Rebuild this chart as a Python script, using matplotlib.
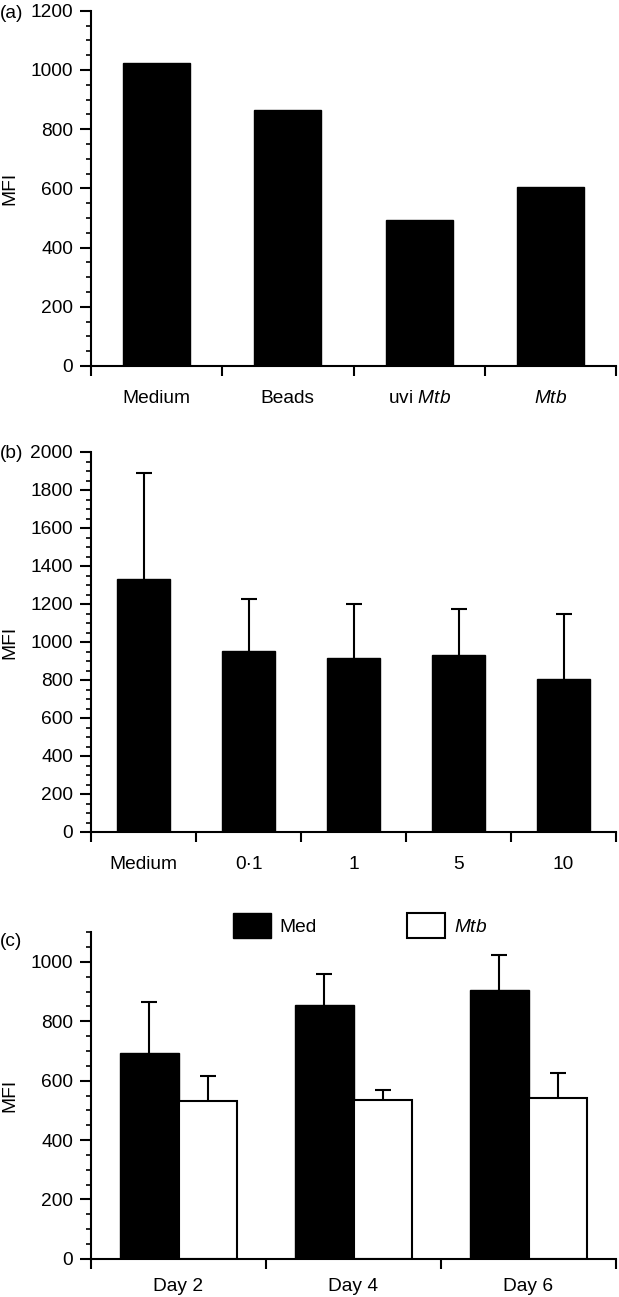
import matplotlib
matplotlib.use('Agg')
import matplotlib.pyplot as plt
import numpy as np

plt.rcParams['font.family'] = ['Liberation Sans', 'DejaVu Sans']
plt.rcParams['mathtext.fontset'] = 'custom'
plt.rcParams['mathtext.rm'] = 'Liberation Sans'
plt.rcParams['mathtext.it'] = 'Liberation Sans:italic'
plt.rcParams['font.size'] = 13.8

# (a)
cats_a = ['Medium', 'Beads', 'uvi $\\mathit{Mtb}$', '$\\mathit{Mtb}$']
mfi_a = [1025, 865, 492, 605]

# (b)
cats_b = ['Medium', '0·1', '1', '5', '10']
mfi_b = [1332, 954, 917, 930, 804]
sd_b = [559, 272, 285, 244, 342]

# (c)
cats_c = ['Day 2', 'Day 4', 'Day 6']
med_c = [694, 855, 904]
med_sd = [172, 106, 118]
mtb_c = [532, 534, 540]
mtb_sd = [84, 34, 85]

fig = plt.figure(figsize=(6.19, 12.97), dpi=100)
W = 619.0
H = 1297.0


def mkax(top, bottom):
    return fig.add_axes([91 / W, 1 - bottom / H, 525 / W, (bottom - top) / H])


def style(ax, n, ymax, step):
    for s in ['top', 'right']:
        ax.spines[s].set_visible(False)
    ax.spines['left'].set_linewidth(1.5)
    ax.spines['bottom'].set_linewidth(1.5)
    ax.set_xlim(-0.5, n - 0.5)
    ax.set_ylim(0, ymax)
    ax.set_yticks(np.arange(0, ymax + 1, step))
    ax.set_yticks(np.arange(0, ymax + 1, 50), minor=True)
    ax.tick_params(axis='y', which='major', length=8, width=1.5, pad=5)
    ax.tick_params(axis='y', which='minor', length=3.5, width=1.2)
    ax.set_xticks(np.arange(n + 1) - 0.5)
    ax.set_xticklabels([''] * (n + 1))
    ax.tick_params(axis='x', which='major', length=7, width=1.5)
    ax.set_ylabel('MFI')
    ax.yaxis.set_label_coords(-0.138, 0.5)


def xlabels(ax, cats, pad):
    ax.set_xticks(np.arange(len(cats)), minor=True)
    ax.set_xticklabels(cats, minor=True)
    ax.tick_params(axis='x', which='minor', length=0, pad=pad)


def errs(ax, x, vals, sd):
    eb = ax.errorbar(x, vals, yerr=[np.zeros(len(sd)), sd], fmt='none',
                     ecolor='black', elinewidth=1.5, capsize=6, capthick=1.5)
    eb[1][0].set_visible(False)  # no cap at bar top


# panel a
ax1 = mkax(10.7, 366)
xa = np.arange(len(cats_a))
ax1.bar(xa, mfi_a, width=0.51, color='black', edgecolor='black', linewidth=1)
style(ax1, len(cats_a), 1200, 200)
xlabels(ax1, cats_a, 17)
fig.text(0.0, 1 - 14 / H, '(a)', va='center', ha='left')

# panel b
ax2 = mkax(452, 832)
xb = np.arange(len(cats_b))
ax2.bar(xb, mfi_b, width=0.51, color='black', edgecolor='black', linewidth=1)
errs(ax2, xb, mfi_b, sd_b)
style(ax2, len(cats_b), 2000, 200)
xlabels(ax2, cats_b, 17)
fig.text(0.0, 1 - 453 / H, '(b)', va='center', ha='left')

# panel c
ax3 = mkax(932.3, 1258.7)
xc = np.arange(len(cats_c))
w = 0.335
ax3.bar(xc - w / 2, med_c, width=w, color='black', edgecolor='black', linewidth=1, label='Med')
ax3.bar(xc + w / 2, mtb_c, width=w, color='white', edgecolor='black', linewidth=1.5,
        label='$\\mathit{Mtb}$')
errs(ax3, xc - w / 2, med_c, med_sd)
errs(ax3, xc + w / 2, mtb_c, mtb_sd)
style(ax3, len(cats_c), 1100, 200)
ax3.set_yticks(np.arange(0, 1001, 200))
ax3.set_yticks(np.arange(0, 1101, 50), minor=True)
xlabels(ax3, cats_c, 14)
ax3.legend(loc='center', bbox_to_anchor=(0.512, 1.02), ncol=2, frameon=False,
           handlelength=2.0, handleheight=1.65, handletextpad=0.45,
           columnspacing=4.7, borderaxespad=0)
fig.text(0.0, 1 - 942 / H, '(c)', va='center', ha='left')

fig.savefig('out.png', dpi=100)
